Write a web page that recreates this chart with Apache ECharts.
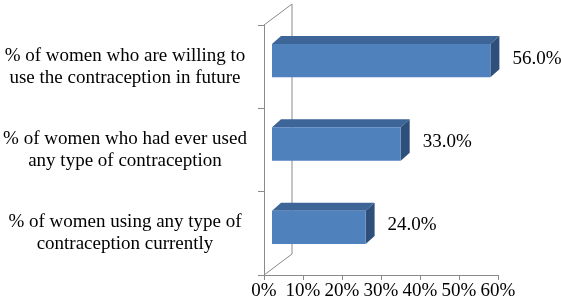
<!DOCTYPE html>
<html>
<head>
<meta charset="utf-8">
<script src="https://cdn.jsdelivr.net/npm/echarts@6/dist/echarts.min.js"></script>
<style>
html, body { margin: 0; padding: 0; background: #fff; }
#chart { width: 561px; height: 304px; }
</style>
</head>
<body>
<div id="chart"></div>
<script>
// 类目（自下而上）
var categories = [
	'% of women using any type of\ncontraception currently',
	'% of women who had ever used\nany type of contraception',
	'% of women who are willing to\nuse the contraception in future'
];
var values = [24.0, 33.0, 56.0];
var xMin = 0, xMax = 60, xStep = 10;

var FONT = "'Liberation Serif', 'Times New Roman', serif";
var wallDepth = [28, -21]; // 后墙偏移
var barShift = [8, -6];    // 柱子正面相对前平面的偏移
var barDepth = [9, -8];    // 柱子厚度

var myChart = echarts.init(document.getElementById('chart'));

function renderWall(params, api) {
	var band = api.size([0, 1])[1];
	var b = api.coord([xMin, 0]);
	var t = api.coord([xMin, categories.length - 1]);
	var x = b[0], yb = b[1] + band / 2, yt = t[1] - band / 2;
	return {
		type: 'polyline',
		shape: { points: [[x, yt], [x + wallDepth[0], yt + wallDepth[1]], [x + wallDepth[0], yb + wallDepth[1]], [x, yb]] },
		style: { stroke: '#8a8a8a', lineWidth: 1, fill: null }
	};
}

function renderBar(params, api) {
	var v = api.value(0), c = api.value(1);
	var p0 = api.coord([xMin, c]);
	var p1 = api.coord([v, c]);
	var band = api.size([0, 1])[1];
	var h = band * 0.4;
	var x0 = p0[0] + barShift[0], x1 = p1[0] + barShift[0];
	var yT = p0[1] + barShift[1] - h / 2, yB = yT + h;
	var dx = barDepth[0], dy = barDepth[1];
	return {
		type: 'group',
		children: [
			{ type: 'polygon', shape: { points: [[x0, yT], [x0 + dx, yT + dy], [x1 + dx, yT + dy], [x1, yT]] }, style: { fill: '#3d6598' } },
			{ type: 'polygon', shape: { points: [[x1, yT], [x1 + dx, yT + dy], [x1 + dx, yB + dy], [x1, yB]] }, style: { fill: '#2f4f7b' } },
			{ type: 'rect', shape: { x: x0, y: yT, width: x1 - x0, height: h }, style: { fill: '#4f81bd' } },
			{ type: 'text', style: { text: v.toFixed(1) + '%', x: x1 + dx + 13, y: (yT + yB) / 2 - 2, verticalAlign: 'middle', font: '19px ' + FONT, fill: '#000' } }
		]
	};
}

var option = {
	animation: false,
	grid: { left: 264, right: 63, top: 25, bottom: 29 },
	xAxis: {
		type: 'value',
		min: xMin,
		max: xMax,
		interval: xStep,
		splitLine: { show: false },
		axisLine: { show: true, lineStyle: { color: '#8a8a8a' } },
		axisTick: { show: true, length: 5, lineStyle: { color: '#8a8a8a' } },
		axisLabel: { formatter: '{value}%', color: '#000', fontSize: 19, fontFamily: FONT, margin: 7 }
	},
	yAxis: {
		type: 'category',
		data: categories,
		axisLine: { show: true, lineStyle: { color: '#8a8a8a' } },
		axisTick: { show: true, length: 6, lineStyle: { color: '#8a8a8a' } },
		axisLabel: { color: '#000', fontSize: 19, fontFamily: FONT, lineHeight: 22, align: 'center', margin: 139 }
	},
	series: [{
		type: 'custom',
		z: 1,
		renderItem: renderWall,
		data: [[xMin, 0]],
		encode: { x: 0, y: 1 },
		silent: true
	}, {
		type: 'custom',
		z: 2,
		renderItem: renderBar,
		data: values.map(function (v, i) { return [v, i]; }),
		encode: { x: 0, y: 1 }
	}]
};

myChart.setOption(option);
</script>
</body>
</html>
